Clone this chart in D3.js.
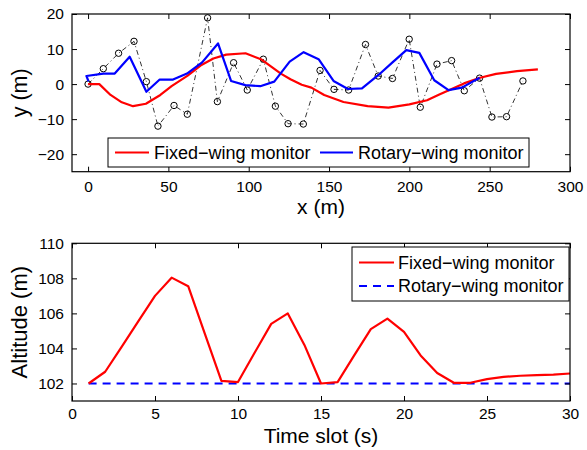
<!DOCTYPE html>
<html>
<head>
<meta charset="utf-8">
<script src="https://cdn.jsdelivr.net/npm/d3@7"></script>
<style>
  html, body { margin: 0; padding: 0; background: #fff; }
  svg { display: block; font-family: "Liberation Sans", Arial, Helvetica, sans-serif; }
</style>
</head>
<body>
<svg id="chart" width="587" height="450"></svg>
<script>
// ---------- Top plot data (trajectories) ----------
const wayX = [0, 9.5, 19, 28.6, 36.3, 43.5, 53.5, 61.8, 74.4, 80.5, 90.6, 99.1, 109.1, 116.6, 124.5, 134, 144.4, 153.1, 162.2, 172.7, 180.6, 189.5, 199.9, 206.8, 217.2, 226.3, 234.2, 243.7, 251.4, 260.5, 270.7];
const wayY = [0, 4.4, 8.8, 12.2, 0.7, -12, -6.1, -8.6, 18.9, -5, 6.1, -1.7, 7.1, -6.3, -11.3, -11.4, 3.9, -1.5, -1.7, 11.3, 2.3, 1.6, 12.8, -6.6, 5.7, 6.7, -1.9, 1.7, -9.4, -9.3, 0.9];

const fixedX = [0, 7, 14, 21, 28, 36, 45, 52, 62, 70, 78, 86, 98, 108, 114, 120, 126, 133, 139, 147, 159, 174, 187, 200, 211, 219, 226, 234, 244, 254, 267, 280];
const fixedY = [0, 0, -3.1, -5.2, -6.3, -5.6, -3.1, -0.6, 2.4, 5.3, 7.3, 8.4, 8.8, 7.0, 5.0, 3.0, 1.4, -0.2, -1.0, -3.1, -5.1, -6.3, -6.7, -5.8, -4.6, -2.9, -1.5, 0.2, 1.8, 2.9, 3.7, 4.2];

const rotX = [0.3, -1, 9.5, 16.6, 25.9, 36.3, 44.6, 52.9, 61.6, 71, 80.9, 89, 97.9, 107.2, 115.9, 125.5, 134.2, 143.5, 152.8, 161.8, 170.5, 180.8, 189.5, 198.1, 206.2, 215.5, 224.4, 232.7, 243.7];
const rotY = [0.8, 2.3, 3.0, 3.0, 7.8, -2.2, 1.3, 1.3, 3.0, 6.2, 11.6, 0.9, -0.3, -0.6, 0.7, 6.4, 9.1, 7.1, 0.9, -1.4, -1.2, 2.6, 6.2, 9.7, 8.9, 1.1, -1.7, -1.0, 1.8];

const topXTicks = [0, 50, 100, 150, 200, 250, 300];
const topYTicks = [-20, -10, 0, 10, 20];

// ---------- Bottom plot data (altitude) ----------
const timeSlots = d3.range(1, 31);
const fixedAlt = [102, 102.67, 104.1, 105.56, 107, 108.04, 107.55, 104.85, 102.15, 102.08, 103.75, 105.4, 106, 104.2, 102, 102.08, 103.6, 105.1, 105.7, 104.95, 103.6, 102.6, 102.04, 102.04, 102.25, 102.38, 102.44, 102.48, 102.51, 102.57];
const rotAlt = timeSlots.map(() => 102);

const botXTicks = [0, 5, 10, 15, 20, 25, 30];
const botYTicks = [102, 104, 106, 108, 110];

const legendLabels = ["Fixed\u2212wing monitor", "Rotary\u2212wing monitor"];
const RED = "#ff0000", BLUE = "#0000ff";

const svg = d3.select("#chart");
const L = 72, R = 570;

function minus(v) { return String(v).replace("-", "\u2212"); }

function drawBox(g, x, y, xTicks, yTicks, top, bottom, xPad) {
  const tick = 5;
  const axB = d3.axisBottom(x).tickValues(xTicks).tickSizeInner(-tick).tickSizeOuter(0).tickPadding(xPad).tickFormat(minus);
  const axT = d3.axisTop(x).tickValues(xTicks).tickSizeInner(-tick).tickSizeOuter(0).tickFormat("");
  const axL = d3.axisLeft(y).tickValues(yTicks).tickSizeInner(-tick).tickSizeOuter(0).tickPadding(8).tickFormat(minus);
  const axR = d3.axisRight(y).tickValues(yTicks).tickSizeInner(-tick).tickSizeOuter(0).tickFormat("");
  const gb = g.append("g").attr("transform", `translate(0,${bottom})`).call(axB);
  const gt = g.append("g").attr("transform", `translate(0,${top})`).call(axT);
  const gl = g.append("g").attr("transform", `translate(${L},0)`).call(axL);
  const gr = g.append("g").attr("transform", `translate(${R},0)`).call(axR);
  [gb, gt, gl, gr].forEach(a => {
    a.select(".domain").remove();
    a.selectAll(".tick line").attr("stroke", "#000").attr("stroke-width", 1);
    a.selectAll("text").attr("font-size", 15.5).attr("fill", "#000").attr("font-family", "Liberation Sans, Arial, sans-serif");
  });
  g.append("rect").attr("x", L).attr("y", top).attr("width", R - L).attr("height", bottom - top)
    .attr("fill", "none").attr("stroke", "#000").attr("stroke-width", 1.2);
}

// ================= TOP PLOT =================
const tTop = 14, tBot = 171.7;
const x1 = d3.scaleLinear().domain([-10, 300]).range([L, R]);
const y1 = d3.scaleLinear().domain([-25, 20]).range([tBot, tTop]);
const g1 = svg.append("g");

const line1 = d3.line().x(d => x1(d[0])).y(d => y1(d[1]));
const wayPts = wayX.map((v, i) => [v, wayY[i]]);
g1.append("path").attr("d", line1(wayPts)).attr("fill", "none").attr("stroke", "#000")
  .attr("stroke-width", 0.8).attr("stroke-dasharray", "5,3,1,3");
g1.selectAll("circle.wp").data(wayPts).enter().append("circle")
  .attr("cx", d => x1(d[0])).attr("cy", d => y1(d[1])).attr("r", 3.2)
  .attr("fill", "none").attr("stroke", "#000").attr("stroke-width", 1);
g1.append("path").attr("d", line1(fixedX.map((v, i) => [v, fixedY[i]])))
  .attr("fill", "none").attr("stroke", RED).attr("stroke-width", 2.2).attr("stroke-linejoin", "round");
g1.append("path").attr("d", line1(rotX.map((v, i) => [v, rotY[i]])))
  .attr("fill", "none").attr("stroke", BLUE).attr("stroke-width", 2.2).attr("stroke-linejoin", "round");

drawBox(g1, x1, y1, topXTicks, topYTicks, tTop, tBot, 9);

// top legend
const lg1 = g1.append("g");
lg1.append("rect").attr("x", 108).attr("y", 138).attr("width", 421).attr("height", 29)
  .attr("fill", "#fff").attr("stroke", "#000").attr("stroke-width", 1);
[[115, 149, 154, RED], [320, 353, 358, BLUE]].forEach((s, i) => {
  lg1.append("line").attr("x1", s[0]).attr("x2", s[1]).attr("y1", 152.5).attr("y2", 152.5)
    .attr("stroke", s[3]).attr("stroke-width", 2.2);
  lg1.append("text").attr("x", s[2]).attr("y", 152.5).attr("dy", "0.36em")
    .attr("font-size", 18).text(legendLabels[i]);
});

// axis titles
svg.append("text").attr("x", (L + R) / 2).attr("y", 214).attr("text-anchor", "middle")
  .attr("font-size", 21).text("x (m)");
svg.append("text").attr("transform", `translate(27,${(tTop + tBot) / 2}) rotate(-90)`)
  .attr("text-anchor", "middle").attr("font-size", 21.5).text("y (m)");

// ================= BOTTOM PLOT =================
const bTop = 243.3, bBot = 401;
const x2 = d3.scaleLinear().domain([0, 30]).range([L, R]);
const y2 = d3.scaleLinear().domain([101, 110]).range([bBot, bTop]);
const g2 = svg.append("g");
const line2 = d3.line().x((d, i) => x2(timeSlots[i])).y(d => y2(d));
g2.append("path").attr("d", line2(rotAlt)).attr("fill", "none").attr("stroke", BLUE)
  .attr("stroke-width", 2.2).attr("stroke-dasharray", "8,6");
g2.append("path").attr("d", line2(fixedAlt)).attr("fill", "none").attr("stroke", RED)
  .attr("stroke-width", 2.2).attr("stroke-linejoin", "round");

drawBox(g2, x2, y2, botXTicks, botYTicks, bTop, bBot, 7);

const lg2 = g2.append("g");
lg2.append("rect").attr("x", 352).attr("y", 247).attr("width", 217).attr("height", 54)
  .attr("fill", "#fff").attr("stroke", "#000").attr("stroke-width", 1);
[[262.5, RED, null], [286, BLUE, "8,6"]].forEach((s, i) => {
  lg2.append("line").attr("x1", 359).attr("x2", 394).attr("y1", s[0]).attr("y2", s[0])
    .attr("stroke", s[1]).attr("stroke-width", 2.2).attr("stroke-dasharray", s[2]);
  lg2.append("text").attr("x", 398).attr("y", s[0]).attr("dy", "0.36em")
    .attr("font-size", 18).text(legendLabels[i]);
});

svg.append("text").attr("x", (L + R) / 2).attr("y", 443).attr("text-anchor", "middle")
  .attr("font-size", 21).text("Time slot (s)");
svg.append("text").attr("transform", `translate(27,${(bTop + bBot) / 2}) rotate(-90)`)
  .attr("text-anchor", "middle").attr("font-size", 22).text("Altitude (m)");
</script>
</body>
</html>
